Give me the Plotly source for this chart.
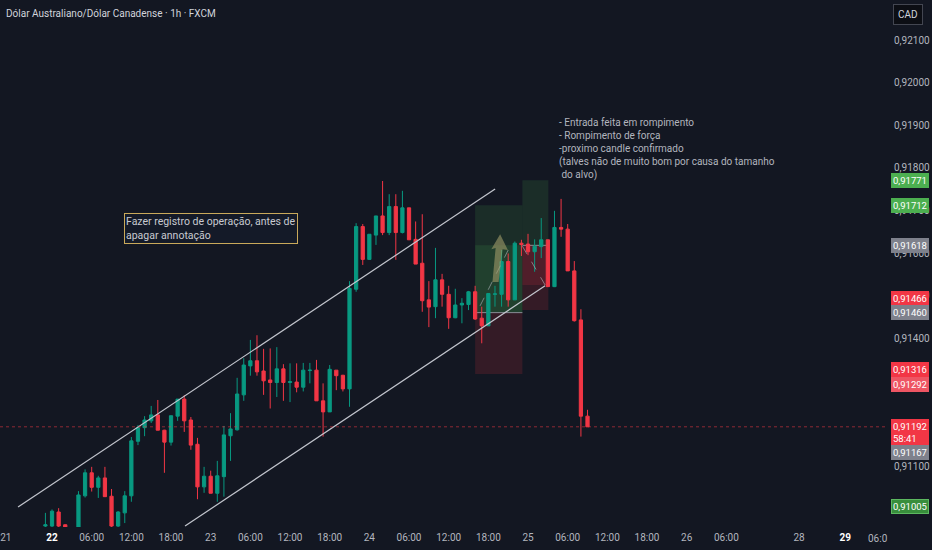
import plotly.graph_objects as go

# =============================================================
#   AUDCAD 1h (FXCM) - candles
# =============================================================
# x = hours counted from 22 00:00 (hour 3 sits below the visible area)
hours = [-1, 0, 1, 2] + list(range(4, 82))

opens = [0.90959, 0.90959, 0.90992, 0.90962,
         0.90950, 0.91030, 0.91084, 0.91050, 0.91072, 0.91029, 0.90959, 0.90990,
         0.91030, 0.91158, 0.91190, 0.91206, 0.91220, 0.91184, 0.91156, 0.91217,
         0.91257, 0.91208, 0.91151, 0.91051, 0.91076, 0.91036, 0.91075, 0.91171,
         0.91185, 0.91267, 0.91335, 0.91347, 0.91323, 0.91302, 0.91296, 0.91328,
         0.91296, 0.91297, 0.91285, 0.91324, 0.91325, 0.91253, 0.91227, 0.91325,
         0.91313, 0.91281, 0.91515, 0.91662, 0.91585, 0.91642, 0.91687, 0.91648,
         0.91709, 0.91648, 0.91706, 0.91632, 0.91576, 0.91490, 0.91474, 0.91537,
         0.91503, 0.91448, 0.91478, 0.91479, 0.91509, 0.91447, 0.91429, 0.91503,
         0.91503, 0.91580, 0.91490, 0.91623, 0.91621, 0.91603, 0.91615, 0.91631,
         0.91521, 0.91660, 0.91656, 0.91558, 0.91443, 0.91217]
highs = [0.90990, 0.90998, 0.91001, 0.90963,
         0.91041, 0.91092, 0.91098, 0.91077, 0.91098, 0.91046, 0.90994, 0.91041,
         0.91168, 0.91196, 0.91217, 0.91241, 0.91255, 0.91185, 0.91218, 0.91257,
         0.91266, 0.91215, 0.91166, 0.91098, 0.91089, 0.91112, 0.91194, 0.91224,
         0.91307, 0.91353, 0.91396, 0.91407, 0.91375, 0.91376, 0.91379, 0.91339,
         0.91341, 0.91341, 0.91342, 0.91342, 0.91349, 0.91294, 0.91337, 0.91325,
         0.91314, 0.91534, 0.91670, 0.91668, 0.91644, 0.91687, 0.91769, 0.91738,
         0.91738, 0.91746, 0.91706, 0.91674, 0.91691, 0.91534, 0.91612, 0.91551,
         0.91523, 0.91516, 0.91494, 0.91511, 0.91523, 0.91474, 0.91505, 0.91523,
         0.91607, 0.91599, 0.91627, 0.91631, 0.91645, 0.91632, 0.91682, 0.91631,
         0.91699, 0.91727, 0.91668, 0.91581, 0.91468, 0.91232]
lows = [0.90955, 0.90955, 0.90950, 0.90935,
        0.90945, 0.91026, 0.91040, 0.91025, 0.91028, 0.90955, 0.90955, 0.90966,
        0.91016, 0.91149, 0.91170, 0.91201, 0.91184, 0.91084, 0.91148, 0.91206,
        0.91180, 0.91138, 0.91022, 0.91037, 0.91036, 0.91016, 0.91028, 0.91112,
        0.91183, 0.91253, 0.91312, 0.91312, 0.91267, 0.91235, 0.91262, 0.91253,
        0.91250, 0.91273, 0.91275, 0.91294, 0.91253, 0.91169, 0.91227, 0.91278,
        0.91275, 0.91239, 0.91509, 0.91572, 0.91584, 0.91619, 0.91642, 0.91642,
        0.91584, 0.91646, 0.91631, 0.91574, 0.91462, 0.91426, 0.91447, 0.91474,
        0.91422, 0.91447, 0.91435, 0.91466, 0.91443, 0.91388, 0.91429, 0.91474,
        0.91474, 0.91474, 0.91490, 0.91593, 0.91595, 0.91556, 0.91588, 0.91521,
        0.91520, 0.91638, 0.91558, 0.91439, 0.91169, 0.91192]
closes = [0.90962, 0.90994, 0.90959, 0.90940,
          0.91032, 0.91084, 0.91050, 0.91072, 0.91028, 0.90959, 0.90992, 0.91030,
          0.91159, 0.91190, 0.91208, 0.91220, 0.91184, 0.91156, 0.91218, 0.91257,
          0.91206, 0.91149, 0.91051, 0.91076, 0.91036, 0.91077, 0.91173, 0.91187,
          0.91269, 0.91337, 0.91347, 0.91321, 0.91300, 0.91296, 0.91328, 0.91296,
          0.91298, 0.91285, 0.91325, 0.91325, 0.91253, 0.91227, 0.91327, 0.91312,
          0.91281, 0.91517, 0.91662, 0.91585, 0.91644, 0.91687, 0.91648, 0.91709,
          0.91648, 0.91706, 0.91631, 0.91574, 0.91488, 0.91473, 0.91537, 0.91503,
          0.91448, 0.91478, 0.91482, 0.91509, 0.91445, 0.91429, 0.91505, 0.91504,
          0.91580, 0.91490, 0.91623, 0.91620, 0.91603, 0.91616, 0.91631, 0.91521,
          0.91660, 0.91656, 0.91558, 0.91441, 0.91217, 0.91192]

# time axis labels
tick_hours = [-7, 0, 6, 12, 18, 24, 30, 36, 42, 48, 54, 60, 66, 72, 78, 84, 90,
              96, 102, 113, 120]
tick_text = ["21", "22", "06:00", "12:00", "18:00", "23", "06:00", "12:00", "18:00",
             "24", "06:00", "12:00", "18:00", "25", "06:00", "12:00", "18:00",
             "26", "06:00", "28", "29"]
bold_ticks = ["22", "29"]

# price scale (0,910 / 0,912 / 0,913 are hidden behind badges)
price_ticks = [0.911, 0.914, 0.915, 0.916, 0.917, 0.918, 0.919, 0.920, 0.921]

# coloured price badges on the right scale
badge_prices = [0.91771, 0.91712, 0.91618, 0.91466, 0.91460, 0.91316, 0.91292,
                0.91192, 0.91167, 0.91005]
badge_kind = ["win", "win", "entry", "loss", "entry", "loss", "loss2", "last",
              "entry", "win2"]

# long position tools: (start, end, entry, target, stop, reached)
positions = [
    (64.0, 71.15, 0.91460, 0.91712, 0.91316, 0.91618),
    (71.15, 75.08, 0.91618, 0.91771, 0.91466, 0.91525),
]

# drawn trend channel: (x0, y0, x1, y1)
channel = [
    (-5.14, 0.91004, 67.02, 0.91750),
    (20.12, 0.90959, 74.58, 0.91523),
]

last_price = 0.91192

note_box = "Fazer registro de operação, antes de<br>apagar annotação"
note_text = ("- Entrada feita em rompimento<br>- Rompimento de força<br>"
             "-proximo candle confirmado<br>"
             "(talves não de muito bom por causa do tamanho<br>\u00a0do alvo)")

# =============================================================
#   STYLE
# =============================================================
BG = "#131722"
UP = "#089981"
DOWN = "#F23645"
FONT = "Roboto, sans-serif"
BADGE = {
    "win": ("#4CAF50", "#4CAF50"),
    "win2": ("#388E3C", "#5CB860"),
    "entry": ("#7E818C", "#7E818C"),
    "loss": (DOWN, DOWN),
    "loss2": ("#EE5563", "#EE5563"),
    "last": (DOWN, DOWN),
}
BADGE_SHIFT = {0.91466: 12, 0.91316: 4, 0.91192: -6, 0.91167: -15}

fig = go.Figure()

fig.add_trace(go.Candlestick(
    x=hours, open=opens, high=highs, low=lows, close=closes,
    increasing=dict(line=dict(color=UP, width=1), fillcolor=UP),
    decreasing=dict(line=dict(color=DOWN, width=1), fillcolor=DOWN),
    whiskerwidth=0, hoverinfo="skip", showlegend=False,
))

# -------------------------------------------------------------
# position tools
for x0, x1, entry, target, stop, reached in positions:
    fig.add_shape(type="rect", x0=x0, x1=x1, y0=entry, y1=target, layer="below",
                  line_width=0, fillcolor="rgba(76,175,80,0.15)")
    fig.add_shape(type="rect", x0=x0, x1=x1, y0=entry, y1=stop, layer="below",
                  line_width=0, fillcolor="rgba(242,54,69,0.15)")
    # area already travelled by price
    fig.add_shape(type="rect", x0=x0, x1=x1, y0=entry, y1=reached, layer="below",
                  line_width=0,
                  fillcolor="rgba(76,175,80,0.15)" if reached > entry
                  else "rgba(242,54,69,0.15)")
    fig.add_shape(type="line", x0=x0, x1=x1, y0=entry, y1=entry, layer="below",
                  line=dict(color="#8a8d96", width=1))

# dashed path lines inside the tools
fig.add_shape(type="line", x0=64.75, y0=0.91476, x1=69.0, y1=0.91607,
              line=dict(color="rgba(178,181,190,0.6)", width=1, dash="dash"))
fig.add_shape(type="line", x0=71.15, y0=0.91616, x1=74.58, y1=0.91525,
              line=dict(color="rgba(178,181,190,0.6)", width=1, dash="dash"))

# khaki arrow drawing
fig.add_shape(type="path", line_width=0, fillcolor="rgba(160,155,105,0.6)",
              path="M 66.62 0.91532 L 67.10 0.91612 L 66.45 0.91609 L 67.78 0.91644 "
                   "L 68.95 0.91607 L 68.15 0.91609 L 67.55 0.91532 Z")

# channel lines
for x0, y0, x1, y1 in channel:
    fig.add_shape(type="line", x0=x0, y0=y0, x1=x1, y1=y1,
                  line=dict(color="#c3c6ce", width=1.2))

# current price line
fig.add_shape(type="line", xref="paper", x0=0, x1=1, y0=last_price, y1=last_price,
              line=dict(color="rgba(242,54,69,0.55)", width=1, dash="dot"))

# -------------------------------------------------------------
# text notes
fig.add_annotation(x=10.9, y=0.91694, xanchor="left", yanchor="top",
                   text=note_box, showarrow=False, align="left",
                   font=dict(family=FONT, size=10.5, color="#c8cad1"),
                   bgcolor="#141a28", bordercolor="#c9a95a", borderwidth=1,
                   borderpad=1)
fig.add_annotation(x=76.4, y=0.91924, xanchor="left", yanchor="top",
                   text=note_text, showarrow=False, align="left",
                   font=dict(family=FONT, size=10, color="#b2b5be"))

fig.add_annotation(xref="paper", yref="paper", x=0, y=1, xanchor="left",
                   yanchor="top", xshift=4, yshift=-6, showarrow=False,
                   text="Dólar Australiano/Dólar Canadense · 1h · FXCM",
                   font=dict(family=FONT, size=10, color="#d1d4dc"))

fig.add_annotation(xref="paper", yref="paper", x=1, y=1, xanchor="left",
                   yanchor="top", xshift=6, yshift=-4, showarrow=False,
                   text="CAD", font=dict(family=FONT, size=10, color="#d1d4dc"),
                   bgcolor="#0c0e14", bordercolor="#434651", borderwidth=1,
                   borderpad=4)

# truncated last time label
fig.add_annotation(xref="paper", yref="paper", x=1, y=0, xanchor="right",
                   yanchor="top", xshift=3, yshift=-4, showarrow=False,
                   text="06:0", font=dict(family=FONT, size=10, color="#b2b5be"))

# price badges
for p, kind in zip(badge_prices, badge_kind):
    bg, border = BADGE[kind]
    label = f"{p:.5f}".replace(".", ",")
    if kind == "last":
        label += "<br>58:41"
    fig.add_annotation(xref="paper", x=1, y=p, xanchor="left", yanchor="middle",
                       xshift=4, yshift=BADGE_SHIFT.get(p, 0), showarrow=False,
                       text=label, align="left", bgcolor=bg, bordercolor=border,
                       borderwidth=1, borderpad=1,
                       font=dict(family=FONT, size=9.5, color="#ffffff"))

# -------------------------------------------------------------
tick_labels = [f"<b><span style='color:#ffffff'>{t}</span></b>" if t in bold_ticks
               else t for t in tick_text]

fig.update_layout(
    width=932, height=550,
    margin=dict(l=0, r=45, t=0, b=23),
    paper_bgcolor=BG, plot_bgcolor=BG,
    separators=",.",
    font=dict(family=FONT, size=10, color="#b2b5be"),
    showlegend=False,
    xaxis=dict(range=[-7.87, 126.3], tickvals=tick_hours, ticktext=tick_labels,
               showgrid=False, zeroline=False, showline=False, ticks="",
               ticklabelstandoff=3,
               rangeslider=dict(visible=False), fixedrange=True),
    yaxis=dict(range=[0.909568, 0.921939], side="right", tickvals=price_ticks,
               tickformat=".5f", showgrid=False, zeroline=False, showline=False,
               ticks="", ticklabelstandoff=6, fixedrange=True),
)

fig.write_html("out.html", config={"displayModeBar": False},
               post_script="document.body.style.margin='0';")
